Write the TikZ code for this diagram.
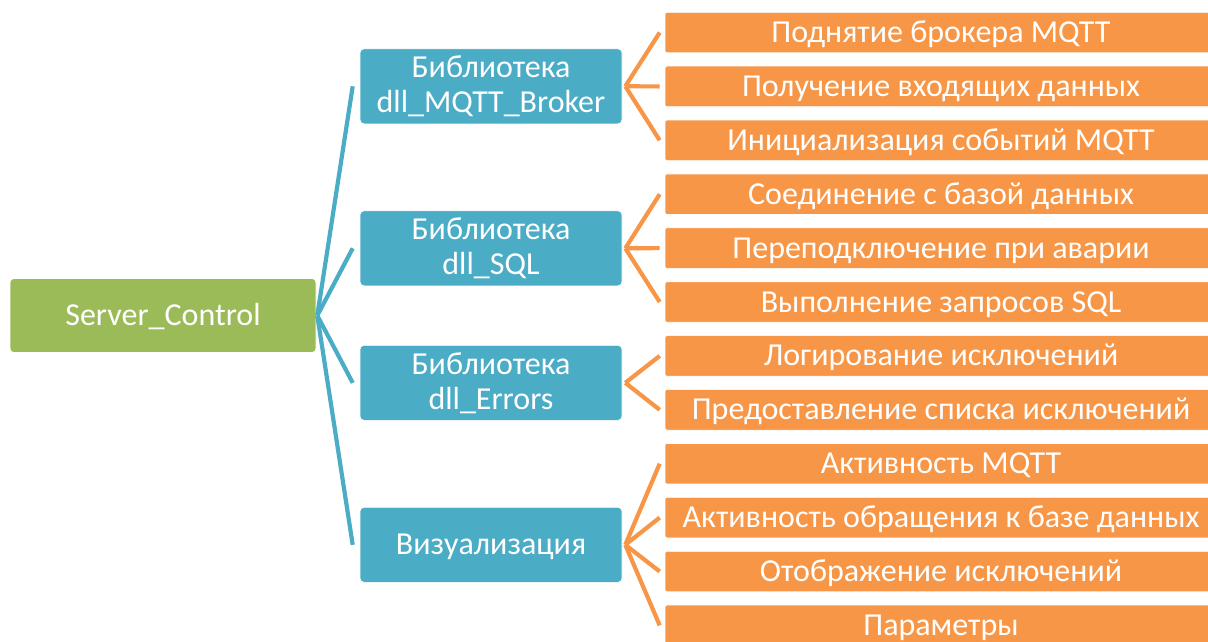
\documentclass[tikz,border=0pt]{standalone}
\usepackage{fontspec}
\setmainfont{Carlito}
\usetikzlibrary{calc}
\definecolor{rootgreen}{HTML}{9BBB59}
\definecolor{libblue}{HTML}{4BACC6}
\definecolor{taskorange}{HTML}{F79646}
\tikzset{
  box/.style={rectangle, text=white, inner sep=0pt, align=center,
    font=\fontsize{32}{35}\selectfont, draw=white, line width=0.6pt},
  oneline/.style={text height=24pt, text depth=4pt},
  rootbox/.style={box, oneline, fill=rootgreen, rounded corners=4pt,
    minimum width=306pt, minimum height=74pt},
  libbox/.style={box, fill=libblue, rounded corners=4pt,
    minimum width=262pt, minimum height=75pt},
  taskbox/.style={box, oneline, fill=taskorange, rounded corners=2pt,
    minimum width=552pt, minimum height=40.5pt},
  bluelink/.style={draw=libblue, line width=4.2pt},
  orangelink/.style={draw=taskorange, line width=4.2pt},
}
\begin{document}
\begin{tikzpicture}[x=1pt,y=-1pt]
\useasboundingbox (0,0) rectangle (1208,641);
\begin{scope}
\clip (0,0) rectangle (1208,641);

% root
\node[rootbox] (root) at (163,315.5) {Server\_Control};

% libraries
\node[libbox] (lib1) at (491,86.3) {Библиотека\\dll\_MQTT\_Broker};
\node[libbox] (lib2) at (491,248.3) {Библиотека\\dll\_SQL};
\node[libbox] (lib3) at (491,382.8) {Библиотека\\dll\_Errors};
\node[libbox, oneline] (lib4) at (491,544.8) {Визуализация};

% tasks
\foreach \i/\t in {1/Поднятие брокера MQTT,
                   2/Получение входящих данных,
                   3/Инициализация событий MQTT,
                   4/Соединение с базой данных,
                   5/Переподключение при аварии,
                   6/Выполнение запросов SQL,
                   7/Логирование исключений,
                   8/Предоставление списка исключений,
                   9/Активность MQTT,
                   10/Активность обращения к базе данных,
                   11/Отображение исключений,
                   12/Параметры}
  \node[taskbox] (t\i) at (941,{32.5+(\i-1)*53.9}) {\t};

% root to libraries
\foreach \l in {lib1,lib2,lib3,lib4}
  \draw[bluelink] ($(root.east)+(1,0)$) -- ($(\l.west)+(-7,0)$);

% libraries to tasks
\foreach \l/\tasks in {lib1/{1,2,3}, lib2/{4,5,6}, lib3/{7,8}, lib4/{9,10,11,12}}
  \foreach \t in \tasks
    \draw[orangelink] ($(\l.east)+(3,0)$) -- ($(t\t.west)+(-5,0)$);
\end{scope}
\end{tikzpicture}
\end{document}
